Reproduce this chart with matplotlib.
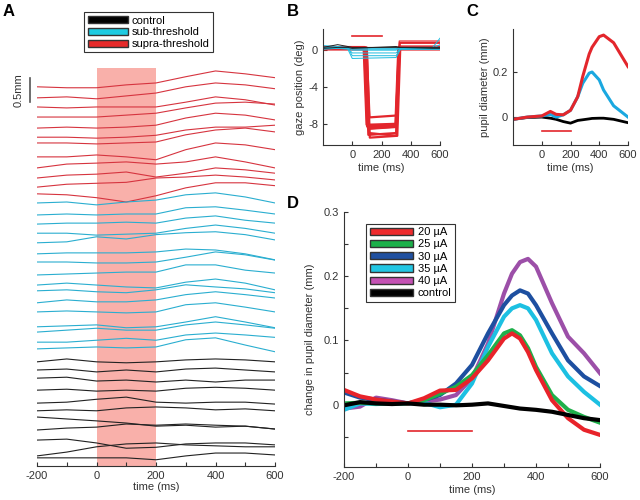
import matplotlib.pyplot as plt
import numpy as np
from matplotlib.patches import Patch

plt.rcParams['font.family'] = ['Liberation Sans', 'DejaVu Sans']
plt.rcParams['font.size'] = 8
plt.rcParams['axes.unicode_minus'] = False

# ---- panel A: single trials, stacked (mm) ----
t_trial = [-200, -100, 0, 100, 200, 300, 400, 500, 600]

red_offsets = [7.90, 7.67, 7.48, 7.27, 7.04, 6.85, 6.73, 6.44, 6.21, 6.00, 5.81, 5.67]
red_trials = [
    [0, -0.02, -0.02, 0.04, 0.08, 0.21, 0.33, 0.27, 0.19],
    [0, 0.02, -0.02, 0.04, 0.10, 0.23, 0.31, 0.27, 0.19],
    [0, -0.02, 0, 0, 0, 0.10, 0.21, 0.15, 0.04],
    [0, 0, 0, 0.04, 0.08, 0.19, 0.29, 0.31, 0.27],
    [0, 0.02, 0, 0.02, 0.06, 0.21, 0.31, 0.27, 0.17],
    [0, 0, -0.02, 0, 0.04, 0.15, 0.21, 0.21, 0.25],
    [0, 0, -0.02, 0, 0.02, 0.17, 0.27, 0.31, 0.23],
    [0, 0, 0.04, 0, -0.06, 0.15, 0.29, 0.25, 0.15],
    [0, 0.08, 0.10, 0.125, 0.08, 0.125, 0.23, 0.125, 0],
    [0, 0.06, 0.08, 0.125, 0.02, 0.10, 0.21, 0.17, 0.10],
    [0, 0.06, 0.08, 0.10, 0.19, 0.21, 0.25, 0.21, 0.15],
    [0, -0.02, -0.08, -0.17, -0.04, 0.125, 0.23, 0.23, 0.17],
]

cyan_offsets = [5.48, 5.23, 5.04, 4.85, 4.65, 4.42, 4.25, 3.98,
                3.77, 3.65, 3.40, 3.21, 2.90, 2.79, 2.58, 2.44]
cyan_trials = [
    [0, 0.02, -0.04, 0.02, 0.06, 0.17, 0.21, 0.125, 0],
    [0, 0.02, 0, 0.02, 0.02, 0.15, 0.17, 0.10, 0.02],
    [0, 0.02, 0.02, 0.04, 0.02, 0.125, 0.17, 0.08, 0.02],
    [0, 0, -0.04, -0.02, 0, 0.10, 0.17, 0.10, 0],
    [0, 0.02, 0.125, 0.08, 0.17, 0.21, 0.23, 0.17, 0.06],
    [0, 0.02, 0.02, 0.02, 0.04, 0.10, 0.08, 0, -0.125],
    [0, 0, -0.02, -0.02, 0, 0.10, 0.21, 0.15, 0.04],
    [0, 0.02, 0.04, 0.06, 0.06, 0.21, 0.21, 0.10, 0.04],
    [0, 0.04, 0, -0.04, -0.06, 0.06, 0.125, 0.04, -0.10],
    [0, 0.02, -0.02, -0.04, 0.02, 0.125, 0.08, 0.04, -0.04],
    [0, 0.06, 0.02, 0.02, 0.06, 0.17, 0.23, 0.17, 0.10],
    [0, 0.02, 0, -0.02, 0, 0.15, 0.19, 0.10, 0],
    [0, 0.02, 0.04, -0.02, 0, 0.10, 0.21, 0.10, -0.02],
    [0, 0.04, 0.08, 0.04, 0.04, 0.15, 0.21, 0.15, 0.08],
    [0, 0, 0.04, 0.08, 0.04, 0.15, 0.19, 0.15, 0.10],
    [0, 0.02, 0.04, 0.02, 0.04, 0.19, 0.23, 0.08, -0.06],
]

black_offsets = [2.17, 2.00, 1.83, 1.58, 1.31, 1.15, 1.02, 0.75, 0.54, 0.21, 0.17]
black_trials = [
    [0, 0.06, 0, -0.02, 0, 0.04, 0.06, 0.04, 0],
    [0, 0.02, -0.04, 0, -0.04, 0.02, 0.04, 0, -0.04],
    [0, 0.02, -0.06, -0.04, -0.08, -0.04, -0.08, -0.04, -0.04],
    [0, 0.02, -0.02, 0, -0.02, 0.04, 0.06, 0.04, 0],
    [0, 0.02, 0.08, 0.125, 0.02, 0, 0.02, 0.02, -0.02],
    [0, 0.02, 0, 0.06, 0.08, 0.06, 0.02, 0.04, 0],
    [0, -0.04, -0.08, -0.125, -0.19, -0.17, -0.21, -0.19, -0.25],
    [0, 0.04, 0.06, 0.125, 0.10, 0.125, 0.10, 0.08, 0.02],
    [0, 0.02, -0.06, -0.17, -0.15, -0.08, -0.06, -0.06, -0.10],
    [0, 0.08, 0.19, 0.25, 0.27, 0.23, 0.21, 0.19, 0.19],
    [0, 0, 0, 0, -0.04, 0.04, 0.10, 0.10, 0.06],
]

# ---- panel B: gaze position (deg) ----
sac_onset = [78, 82, 85, 88, 90, 92, 95, 98, 100, 84, 87, 93]
sac_land = [-8.1, -8.3, -8.2, -8.5, -9.2, -8.4, -9.0, -7.3, -9.5, -8.3, -8.2, -8.6]
sac_land_end = [-8.0, -8.2, -8.3, -8.3, -9.0, -8.2, -9.3, -7.1, -9.3, -8.1, -8.4, -8.4]
sac_return = [295, 298, 300, 302, 300, 305, 303, 300, 308, 297, 301, 304]
sac_pre = [0.2, 0.3, 0.1, 0.2, 0.3, 0.2, 0.1, 0.3, 0.2, 0.4, 0.2, 0.3]
sac_post = [0.2, 0.3, 0.1, 0.4, 0.2, 0.8, 0.3, 0.2, 0.1, 0.3, 1.0, 0.2]

gaze_t_ctrl = [-200, -100, -30, 0, 300, 330, 550, 600]
gaze_cyan = [
    [0.3, 0.3, 0.3, -0.6, -0.6, 0.2, 0.2, 0.2],
    [0.2, 0.2, 0.1, -0.9, -0.8, 0.1, 0.1, 0.1],
    [0.3, 0.3, 0.3, 0.0, 0.0, 0.3, 0.3, 1.3],
    [0.1, 0.2, 0.2, 0.2, 0.2, 0.1, 0.1, 0.1],
    [0.5, 0.4, 0.3, 0.1, 0.1, 0.3, 0.3, 0.3],
    [0.2, 0.2, 0.2, -0.3, -0.3, 0.2, 0.2, 0.6],
]
gaze_black = [
    [0.3, 0.6, 0.4, 0.3, 0.3, 0.3, 0.3, 0.3],
    [0.2, 0.3, 0.3, 0.2, 0.4, 0.3, 0.2, 0.2],
]

# ---- panel C: mean pupil (mm) ----
c_time = [-200, -100, 0, 60, 100, 150, 200, 250, 285, 330, 350, 400, 430, 500, 600]
c_supra = [-0.01, 0.0, 0.005, 0.025, 0.012, 0.01, 0.03, 0.09, 0.18, 0.28, 0.31, 0.357, 0.364, 0.33, 0.224]
c_sub = [-0.01, 0.0, 0.005, 0.012, 0.0, 0.01, 0.03, 0.09, 0.15, 0.195, 0.2, 0.165, 0.12, 0.05, 0.0]
c_ctrl = [-0.01, -0.002, 0.0, -0.005, -0.01, -0.02, -0.027, -0.015, -0.012, -0.008, -0.006, -0.005, -0.005, -0.01, -0.025]

# ---- panel D: change in pupil diameter by current ----
d_time = [-200, -150, -100, -50, 0, 50, 100, 150, 200, 250, 300, 325, 350, 375, 400, 450, 500, 550, 600]
d_20 = [0.023, 0.013, 0.008, 0.005, 0.002, 0.01, 0.022, 0.023, 0.041, 0.069, 0.103, 0.111, 0.103, 0.082, 0.054, 0.007, -0.021, -0.039, -0.047]
d_25 = [0.002, 0.003, 0.002, 0.002, 0.002, 0.007, 0.017, 0.028, 0.046, 0.077, 0.111, 0.116, 0.108, 0.088, 0.059, 0.015, -0.008, -0.019, -0.028]
d_30 = [0.019, 0.011, 0.008, 0.005, 0.002, 0.007, 0.015, 0.033, 0.062, 0.111, 0.155, 0.170, 0.178, 0.173, 0.155, 0.111, 0.069, 0.044, 0.029]
d_35 = [-0.008, 0.002, 0.001, 0.002, 0.002, 0.003, -0.004, 0.0, 0.033, 0.090, 0.137, 0.150, 0.155, 0.150, 0.132, 0.080, 0.044, 0.020, 0.0]
d_40 = [-0.006, -0.003, 0.011, 0.007, 0.002, 0.005, 0.008, 0.015, 0.041, 0.095, 0.173, 0.204, 0.222, 0.227, 0.215, 0.158, 0.106, 0.080, 0.049]
d_ctrl = [-0.001, 0.004, 0.002, 0.001, 0.002, 0.0, 0.0, -0.001, 0.0, 0.002, -0.002, -0.004, -0.006, -0.007, -0.008, -0.011, -0.016, -0.021, -0.024]
d_labels = ['20 µA', '25 µA', '30 µA', '35 µA', '40 µA', 'control']

RED = '#e3262c'
CYAN = '#1fbde0'
TXT = '#333333'

fig = plt.figure(figsize=(6.4, 5), dpi=100)


def style(ax, left=True):
    for s in ['top', 'right']:
        ax.spines[s].set_visible(False)
    if not left:
        ax.spines['left'].set_visible(False)
        ax.set_yticks([])
    for s in ['left', 'bottom']:
        ax.spines[s].set_color(TXT)
        ax.spines[s].set_linewidth(0.8)
    ax.tick_params(direction='in', length=3, colors=TXT, labelsize=8, width=0.8)
    ax.tick_params(which='minor', direction='in', length=3, colors=TXT, width=0.8)


# A
axA = fig.add_axes([37/640, 34/500, 238/640, 456/500])
axA.axvspan(0, 200, ymin=0, ymax=398/456, color='#f9b0aa', lw=0)
for off, tr in zip(red_offsets, red_trials):
    axA.plot(t_trial, off + np.array(tr), color='#d6343f', lw=0.8)
for off, tr in zip(cyan_offsets, cyan_trials):
    axA.plot(t_trial, off + np.array(tr), color='#2aaed0', lw=0.8)
for off, tr in zip(black_offsets, black_trials):
    axA.plot(t_trial, off + np.array(tr), color='#222222', lw=0.8)
axA.set_xlim(-200, 600)
axA.set_ylim(0, 9.5)
axA.set_xticks([-200, 0, 200, 400, 600])
axA.set_xticks([-100, 100, 300, 500], minor=True)
style(axA, left=False)
axA.set_xlabel('time (ms)', color=TXT, labelpad=1)
axA.plot([-224, -224], [7.58, 8.08], color='#555555', lw=1.2, clip_on=False)
axA.text(-262, 7.83, '0.5mm', rotation=90, ha='center', va='center', color=TXT, fontsize=8)
hA = [Patch(facecolor='black', edgecolor='#333'),
      Patch(facecolor='#1ecbe1', edgecolor='#333'),
      Patch(facecolor='#e62a2a', edgecolor='#333')]
legA = axA.legend(hA, ['control', 'sub-threshold', 'supra-threshold'], loc='upper left',
                  bbox_to_anchor=(0.175, 1.007), fontsize=8, handlelength=3.6, handleheight=0.6,
                  labelspacing=0.15, borderpad=0.3, handletextpad=0.4, fancybox=False,
                  edgecolor='#333333', framealpha=1)
legA.get_frame().set_linewidth(0.8)

# B
axB = fig.add_axes([323/640, 355/500, 117/640, 116/500])
for i in range(len(sac_onset)):
    tv = [-200, sac_onset[i], sac_onset[i] + 20, sac_return[i], sac_return[i] + 20, 600]
    yv = [sac_pre[i], sac_pre[i], sac_land[i], sac_land_end[i], sac_post[i], sac_post[i]]
    axB.plot(tv, yv, color=RED, lw=1.6 if i < 9 else 0.8)
for tr in gaze_cyan:
    axB.plot(gaze_t_ctrl, tr, color=CYAN, lw=0.7)
for tr in gaze_black:
    axB.plot(gaze_t_ctrl, tr, color='#222222', lw=0.7)
axB.plot([0, 200], [1.5, 1.5], color=RED, lw=1.2)
axB.set_xlim(-200, 600)
axB.set_ylim(-10.3, 2.3)
axB.set_xticks([0, 200, 400, 600])
axB.set_yticks([0, -4, -8])
style(axB)
axB.set_xlabel('time (ms)', color=TXT, labelpad=2)
axB.set_ylabel('gaze position (deg)', color=TXT, labelpad=2)

# C
axC = fig.add_axes([513/640, 355/500, 115/640, 116/500])
axC.plot(c_time, c_ctrl, color='black', lw=2)
axC.plot(c_time, c_sub, color='#1aa8e0', lw=2.2)
axC.plot(c_time, c_supra, color=RED, lw=2.2)
axC.plot([0, 200], [-0.063, -0.063], color=RED, lw=1.2)
axC.set_xlim(-200, 600)
axC.set_ylim(-0.124, 0.391)
axC.set_xticks([0, 200, 400, 600])
axC.set_yticks([0, 0.2])
axC.set_yticklabels(['0', '0.2'])
style(axC)
axC.set_xlabel('time (ms)', color=TXT, labelpad=2)
axC.set_ylabel('pupil diameter (mm)', color=TXT, labelpad=2)

# D
axD = fig.add_axes([344/640, 33/500, 256/640, 255/500])
for ys, col in zip([d_40, d_30, d_35, d_25, d_20, d_ctrl],
                   ['#9c4fa8', '#1d4fa0', '#1cc0e2', '#1fb04b', '#e8232a', '#000000']):
    axD.plot(d_time, ys, color=col, lw=3)
axD.plot([0, 200], [-0.041, -0.041], color=RED, lw=1.2)
axD.set_xlim(-200, 600)
axD.set_ylim(-0.097, 0.3)
axD.set_xticks([-200, 0, 200, 400, 600])
axD.set_xticks([-100, 100, 300, 500], minor=True)
axD.set_yticks([0, 0.1, 0.2, 0.3])
axD.set_yticklabels(['0', '0.1', '0.2', '0.3'])
axD.set_yticks([-0.05, 0.05, 0.15, 0.25], minor=True)
style(axD)
axD.set_xlabel('time (ms)', color=TXT, labelpad=2)
axD.set_ylabel('change in pupil diameter (mm)', color=TXT, labelpad=6)
legend_cols = ['#ee2b2e', '#1cb04a', '#2050a0', '#22c6e3', '#c452b4', '#000000']
hD = [Patch(facecolor=c, edgecolor='#333') for c in legend_cols]
legD = axD.legend(hD, d_labels, loc='upper left', bbox_to_anchor=(0.066, 0.975), fontsize=8,
                  handlelength=3.9, handleheight=0.6, labelspacing=0.2, borderpad=0.3,
                  handletextpad=0.4, fancybox=False, edgecolor='#333333', framealpha=1)
legD.get_frame().set_linewidth(0.8)

# panel letters
for lab, x, y in [('A', 3, 12), ('B', 287, 12), ('C', 466, 12), ('D', 287, 204)]:
    fig.text(x/640, 1 - y/500, lab, fontsize=12, fontweight='bold', va='center', ha='left')

fig.savefig('out.png', dpi=100)
